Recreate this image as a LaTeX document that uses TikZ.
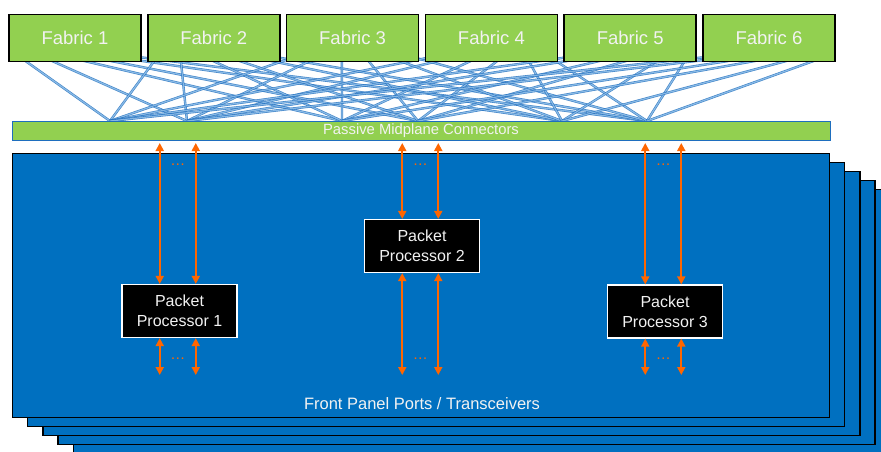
\documentclass[tikz,border=0pt]{standalone}
\usepackage{fontspec}
\setmainfont{Liberation Sans}
\usepackage{xcolor}
\usetikzlibrary{arrows.meta, positioning, calc, backgrounds}
\definecolor{fab_green}{RGB}{146, 208, 80}
\definecolor{card_blue}{RGB}{0, 112, 192}
\definecolor{mesh_blue}{RGB}{30, 110, 190}
\definecolor{mesh_light}{RGB}{150, 195, 235}
\definecolor{link_orange}{RGB}{255, 102, 0}
\definecolor{txt_light}{RGB}{242, 242, 242}

\begin{document}
\begin{tikzpicture}[
    x=1pt, y=-1pt,
    fabric/.style={rectangle, draw=black, line width=1.6pt, fill=fab_green,
                   minimum width=132pt, minimum height=47pt, text=txt_light,
                   font=\fontsize{18.5}{20}\selectfont},
    midplane/.style={rectangle, draw=mesh_blue, line width=0.8pt, fill=fab_green,
                     minimum width=818pt, minimum height=19pt, inner sep=0pt,
                     text=txt_light, font=\fontsize{14.8}{16}\selectfont},
    card/.style={rectangle, draw=black, line width=1.3pt, fill=card_blue,
                 minimum width=817pt, minimum height=264pt},
    pp/.style={rectangle, draw=white, line width=1.2pt, fill=black,
               minimum width=115pt, minimum height=53pt, text=txt_light,
               align=center, font=\fontsize{16}{20}\selectfont},
    link/.style={<->, >={Triangle[width=8pt, length=8pt]},
                 line width=1.8pt, link_orange},
    mesh/.style={draw=mesh_blue, double=mesh_light, double distance=1.2pt,
                 line width=0.6pt, opacity=0.85},
    dots/.style={text=link_orange, font=\fontsize{15}{15}\selectfont,
                 inner sep=0pt},
  ]
  \useasboundingbox (0,0) rectangle (881,451);
  \clip (0,0) rectangle (881,451);

  % line cards, back to front
  \foreach \k in {4,3,2,1}
    \node[card] (card\k) at ({421+15.2*\k},{285.5+9*\k}) {};
  \node[card] (card0) at (421,285.5) {};
  \node[text=txt_light, font=\fontsize{16.5}{18}\selectfont] (ports)
    at (422,404) {Front Panel Ports / Transceivers};

  % fabrics
  \node[fabric] (f1) at (75,38) {Fabric 1};
  \foreach \i [remember=\i as \last (initially 1)] in {2,...,6}
    \node[fabric, right=5.2pt of f\last] (f\i) {Fabric \i};

  \node[midplane] (mid) at (421,130.5) {Passive Midplane Connectors};

  % mesh end points
  \foreach \j/\mx in {1/110, 2/187, 3/342, 4/418, 5/562, 6/647}
    \coordinate (m\j) at (\mx,121);
  \foreach \i in {1,...,6}
    \foreach \j/\pos in {1/0.08, 2/0.25, 3/0.42, 4/0.59, 5/0.76, 6/0.93}
      \coordinate (s\i\j) at ($(f\i.south west)!\pos!(f\i.south east)$);
  \begin{scope}[on background layer]
    \foreach \i in {1,...,6}
      \foreach \j in {1,...,6}
        \draw[mesh] ([yshift=6pt]s\i\j) -- (m\j);
  \end{scope}

  % packet processors
  \node[pp] (pp1) at (179.5,311) {Packet\\Processor 1};
  \node[pp] (pp2) at (422,246)   {Packet\\Processor 2};
  \node[pp] (pp3) at (665,311.5) {Packet\\Processor 3};

  \coordinate (top)  at (0,143);
  \coordinate (bot)  at (0,375);
  \coordinate (dtop) at (0,165);
  \coordinate (dbot) at (0,359);
  \foreach \p in {1,2,3} {
    \coordinate (a\p) at ($(pp\p.north west)!0.33!(pp\p.north east)$);
    \coordinate (b\p) at ($(pp\p.north west)!0.64!(pp\p.north east)$);
    \coordinate (c\p) at ($(pp\p.south west)!0.33!(pp\p.south east)$);
    \coordinate (d\p) at ($(pp\p.south west)!0.64!(pp\p.south east)$);
    \draw[link] (a\p) -- (a\p |- top);
    \draw[link] (b\p) -- (b\p |- top);
    \draw[link] (c\p) -- (c\p |- bot);
    \draw[link] (d\p) -- (d\p |- bot);
    \node[dots] (up\p) at ($(a\p |- dtop)!0.5!(b\p |- dtop)$) {…};
    \node[dots] (dn\p) at ($(c\p |- dbot)!0.5!(d\p |- dbot)$) {…};
  }
\end{tikzpicture}
\end{document}
